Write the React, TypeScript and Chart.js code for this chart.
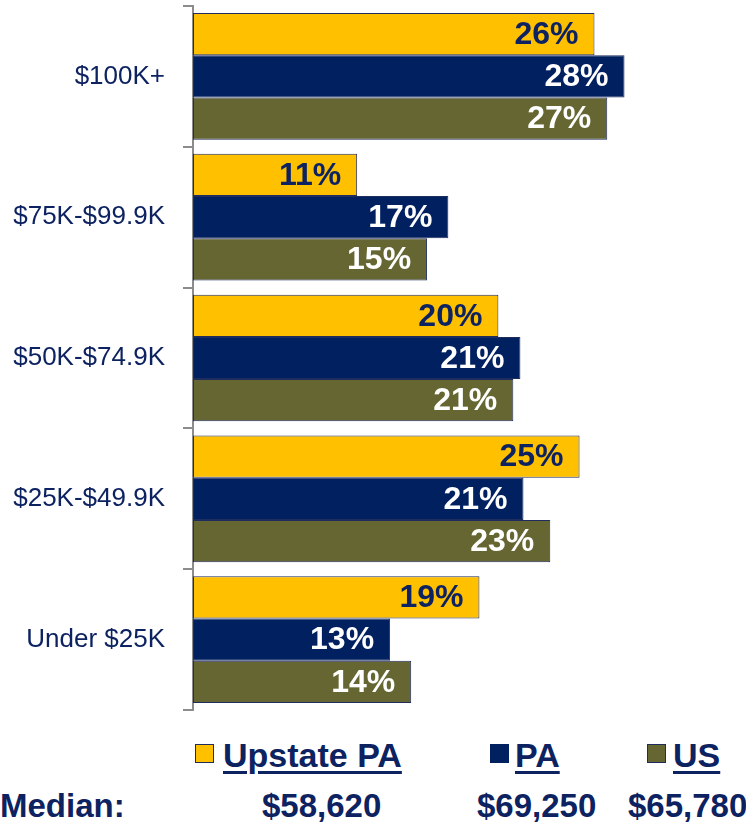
import React, { useEffect, useRef } from "react";
import { Chart, registerables } from "chart.js";

Chart.register(...registerables);

const categories = ["$100K+", "$75K-$99.9K", "$50K-$74.9K", "$25K-$49.9K", "Under $25K"];
const upstatePA = [26.07, 10.66, 19.83, 25.1, 18.6];
const paValues = [28.02, 16.58, 21.26, 21.46, 12.8];
const usValues = [26.9, 15.2, 20.8, 23.2, 14.17];
const seriesNames = ["Upstate PA", "PA", "US"];
const medianLabel = "Median:";
const medians = ["$58,620", "$69,250", "$65,780"];

const GOLD = "#FFC000";
const NAVY = "#002060";
const OLIVE = "#666633";
const TEXT = "#0D2260";
const FONT = "'Liberation Sans', Arial, Helvetica, sans-serif";

const labelPlugin = {
  id: "barLabels",
  afterDatasetsDraw(chart: any) {
    const ctx = chart.ctx;
    ctx.save();
    ctx.font = `bold 32px ${FONT}`;
    ctx.textAlign = "right";
    ctx.textBaseline = "middle";
    chart.data.datasets.forEach((ds: any, di: number) => {
      const meta = chart.getDatasetMeta(di);
      meta.data.forEach((el: any, i: number) => {
        const v = ds.data[i] as number;
        ctx.fillStyle = di === 0 ? TEXT : "#FFFFFF";
        ctx.fillText(Math.round(v) + "%", el.x - 16, el.y + 1);
      });
    });
    ctx.restore();
  },
};

export default function App() {
  const ref = useRef<HTMLCanvasElement | null>(null);
  useEffect(() => {
    if (!ref.current) return;
    const chart = new Chart(ref.current, {
      type: "bar",
      data: {
        labels: categories,
        datasets: [
          { label: seriesNames[0], data: upstatePA, backgroundColor: GOLD },
          { label: seriesNames[1], data: paValues, backgroundColor: NAVY },
          { label: seriesNames[2], data: usValues, backgroundColor: OLIVE },
        ].map((d) => ({
          ...d,
          borderColor: "#1F2C5E",
          borderWidth: 1,
          borderSkipped: false,
          barPercentage: 1,
          categoryPercentage: 0.9,
        })),
      },
      options: {
        indexAxis: "y",
        animation: false,
        responsive: false,
        devicePixelRatio: 1,
        layout: { padding: { top: 6, bottom: 10, right: 14, left: 0 } },
        plugins: { legend: { display: false }, tooltip: { enabled: false } },
        scales: {
          x: { min: 0, max: 35, display: false },
          y: {
            afterFit: (s: any) => {
              s.width = 193;
              s.paddingTop = 0;
              s.paddingBottom = 0;
            },
            grid: {
              display: true,
              drawOnChartArea: false,
              drawTicks: true,
              tickLength: 10,
              color: "#8C8C8C",
              lineWidth: 2,
              offset: true,
            },
            border: { display: true, color: "#8C8C8C", width: 2 },
            ticks: {
              color: TEXT,
              padding: 18,
              font: { family: FONT, size: 26 },
            },
          },
        },
      },
      plugins: [labelPlugin],
    } as any);
    return () => chart.destroy();
  }, []);

  const textStyle: React.CSSProperties = {
    position: "absolute",
    fontFamily: FONT,
    fontWeight: "bold",
    fontSize: 33,
    lineHeight: "33px",
    color: TEXT,
    whiteSpace: "nowrap",
  };
  const legendText: React.CSSProperties = {
    ...textStyle,
    fontSize: 34,
    lineHeight: "34px",
    top: 738,
    textDecoration: "underline",
    textDecorationThickness: "3px",
    textUnderlineOffset: "4px",
  };
  const sq = (left: number, color: string, border: string): React.CSSProperties => ({
    position: "absolute",
    left,
    top: 744,
    width: 17,
    height: 17,
    background: color,
    border: `1px solid ${border}`,
  });

  return (
    <div style={{ position: "absolute", left: 0, top: 0, width: 746, height: 822, background: "#fff" }}>
      <canvas ref={ref} width={746} height={720} style={{ display: "block" }} />
      <div style={sq(195, GOLD, "#1F2C5E")} />
      <div style={{ ...legendText, left: 223 }}>{seriesNames[0]}</div>
      <div style={sq(490, NAVY, NAVY)} />
      <div style={{ ...legendText, left: 515 }}>{seriesNames[1]}</div>
      <div style={sq(647, OLIVE, "#1F2C5E")} />
      <div style={{ ...legendText, left: 673 }}>{seriesNames[2]}</div>
      <div style={{ ...textStyle, top: 789, left: 0 }}>{medianLabel}</div>
      <div style={{ ...textStyle, top: 789, left: 262 }}>{medians[0]}</div>
      <div style={{ ...textStyle, top: 789, left: 477 }}>{medians[1]}</div>
      <div style={{ ...textStyle, top: 789, left: 628 }}>{medians[2]}</div>
    </div>
  );
}
